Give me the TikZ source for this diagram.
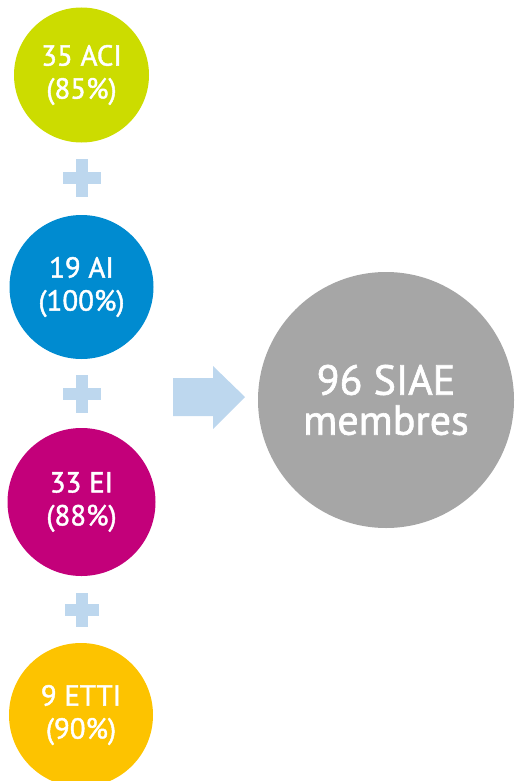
\documentclass[tikz,border=0pt]{standalone}
\usepackage{fontspec}
\setmainfont{PT Sans}
\newfontfamily\medfont{PT Sans}[FakeBold=1.5]
\usetikzlibrary{calc}
\definecolor{cgreen}{HTML}{CCDC00}
\definecolor{cblue}{HTML}{008BD0}
\definecolor{cmag}{HTML}{C3007A}
\definecolor{corange}{HTML}{FDC300}
\definecolor{cgray}{HTML}{A6A6A6}
\definecolor{clight}{HTML}{BDD7EE}
\tikzset{
  disc/.style={circle, inner sep=0pt, minimum size=#1, text=white, align=center,
    font=\medfont\fontsize{29}{33}\selectfont},
  plusbar/.style={fill=clight, draw=none},
}
\begin{document}
\begin{tikzpicture}[x=1pt,y=-1pt]
\useasboundingbox (0,0) rectangle (515,781);
\begin{scope}
\clip (0,0) rectangle (515,781);
\node[disc=135pt, fill=cgreen] (aci) at (81.5,75) {35 ACI\\(85\%)};
\node[disc=144pt, fill=cblue] (ai) at (81.5,287) {19 AI\\(100\%)};
\node[disc=148pt, fill=cmag] (ei) at (81.5,502) {33 EI\\(88\%)};
\node[disc=144pt, fill=corange] (etti) at (81,715) {9 ETTI\\(90\%)};
\node[disc=256pt, fill=cgray, font=\medfont\fontsize{42}{40}\selectfont] (siae) at (386,400) {96 SIAE\\membres};
\end{scope}
% plus signs
\coordinate (p1) at (82,178);
\coordinate (p2) at (81.5,394);
\coordinate (p3) at (81.5,610);
\foreach \p/\h in {p1/19,p2/19,p3/17}{
  \fill[plusbar] ($(\p)+(-\h,-6)$) rectangle ($(\p)+(\h,6)$);
  \fill[plusbar] ($(\p)+(-6,-\h)$) rectangle ($(\p)+(6,\h)$);
}
% arrow
\fill[clight] (173,378) -- (213,378) -- (213,366) -- (245,397) -- (213,429) -- (213,416) -- (173,416) -- cycle;
\end{tikzpicture}
\end{document}
